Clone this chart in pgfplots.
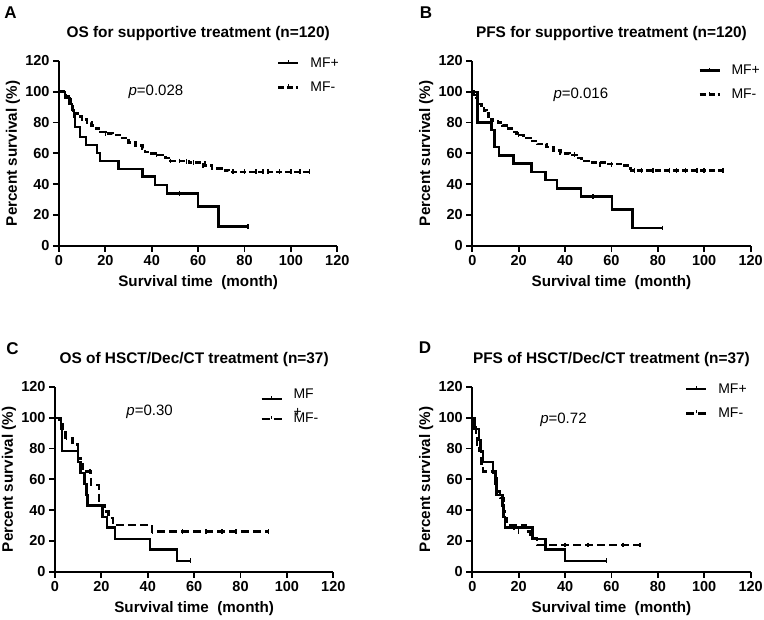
\documentclass[border=0pt]{standalone}
\usepackage{fontspec}
\setmainfont{Liberation Sans}
\usepackage{pgfplots}
\pgfplotsset{compat=1.18}
\pgfplotsset{
  km/.style={
    width=278.3pt, height=184.7pt, scale only axis,
    xmin=0, xmax=120, ymin=0, ymax=120, enlargelimits=false, clip=false,
    xtick={0,20,...,120}, ytick={0,20,...,120},
    axis lines*=left, axis line style={line width=2.1pt},
    tick style={line width=1.8pt, black}, tick align=outside, major tick length=6pt,
    /pgf/number format/assume math mode=true,
    tick label style={font=\fontsize{14.5}{16}\selectfont\bfseries},
    xlabel={Survival time\ \ (month)}, ylabel={Percent survival (\%)},
    xlabel style={at={(0.5,0)}, anchor=center, yshift=-37pt, font=\fontsize{15.2}{18}\selectfont\bfseries},
    ylabel style={at={(0,0.5)}, anchor=center, yshift=46pt, font=\fontsize{15.2}{18}\selectfont\bfseries},
    title style={at={(0.5,1)}, anchor=center, yshift=21pt, font=\fontsize{15.4}{18}\selectfont\bfseries},
    legend style={draw=none, fill=none, font=\fontsize{14}{16}\selectfont, anchor=north west,
      inner sep=0pt, row sep=9pt},
    legend cell align=left,
    legend image code/.code={\path[draw=none,fill=none] (0pt,0pt) -- (30pt,0pt); \draw[#1] (0pt,0pt) -- (20pt,0pt); \draw[line width=1.6pt,solid] (10pt,0pt) -- (10pt,3pt);},
  },
  pos/.style={line width=2.4pt, black, const plot},
  neg/.style={line width=2.6pt, black, const plot, dash pattern=on 6pt off 3pt},
  negC/.style={line width=2.4pt, black, const plot, dash pattern=on 8pt off 4pt},
  cens/.style={only marks, mark=|, mark size=2.4pt, mark options={line width=1.6pt, solid}, black, forget plot},
}
\begin{document}
\begin{tikzpicture}
\useasboundingbox (0pt,0pt) rectangle (764pt,-620pt);
\node[font=\fontsize{17}{20}\selectfont\bfseries] at (10.5pt,-12.5pt) {A};
\node[font=\fontsize{17}{20}\selectfont\bfseries] at (426pt,-12.5pt) {B};
\node[font=\fontsize{17}{20}\selectfont\bfseries] at (12.5pt,-349pt) {C};
\node[font=\fontsize{17}{20}\selectfont\bfseries] at (425pt,-348pt) {D};

% ---------------- A
\begin{axis}[km, at={(59pt,-245.7pt)}, anchor=south west,
  title={OS for supportive treatment (n=120)},
  legend style={at={(0.783,1.03)}}]
\addplot[pos] coordinates {(0,100)(2.5,96)(4.5,92)(5.5,88)(6.5,84)(7,77)(9.1,70.5)(11.7,65.3)(16.3,60.2)(17.7,55)(25.6,50)(36,45)(41.4,39.5)(46.5,34)(60,25.5)(68.7,12.5)(81.6,12.5)};
\addlegendentry{MF+}
\addplot[neg] coordinates {(0,100)(2,99)(3,97)(4,95)(5,92)(6,88)(7,86)(8,84)(10,82)(12,80)(14,78)(16,76)(18,74)(20,73)(23,72)(26,70)(30,67)(33,65)(36,63)(37,61)(40,60)(43,59)(46,57)(48,55)(52,55)(56,54)(60,54)(63,52)(66,50)(70,49)(73,48)(108,48)};
\addlegendentry{MF-}
\addplot[cens] coordinates {(52,34)(81.6,12.5)};
\addplot[cens] coordinates {(3,97)(20,73)(42,59)(48,55)(52,55)(55,54.5)(58,54)(62,52)(75,48)(80,48)(85,48)(88,48)(90,48)(95,48)(100,48)(104,48)(108,48)};
\node[anchor=west, font=\fontsize{15}{18}\selectfont] at (axis cs:28.5,100) {\textit{p}=0.028};
\end{axis}

% ---------------- B
\begin{axis}[km, at={(472.3pt,-245.7pt)}, anchor=south west,
  title={PFS for supportive treatment (n=120)},
  legend style={at={(0.811,0.99)}}]
\addplot[pos] coordinates {(0,100)(2.2,80)(8.2,75)(9.6,64)(11.5,58.5)(17.7,53.3)(25.6,47.8)(31.6,42.5)(36.4,37.2)(46.8,31.9)(60.3,23.5)(69,11.5)(82,11.5)};
\addlegendentry{MF+}
\addplot[neg] coordinates {(0,100)(0.5,98)(1,96)(2,94)(3,92)(4,90)(5,88)(6,86)(7,84)(8,82)(9,81)(11,80)(13,78)(15,76)(17,74)(19,72)(22,70)(25,68)(28,66)(32,64)(35,62)(38,60)(42,59)(45,57)(47,55)(50,54)(58,53)(64,52)(67,50)(68.5,49)(108,49)};
\addlegendentry{MF-}
\addplot[cens] coordinates {(52,31.9)(82,11.5)};
\addplot[cens] coordinates {(2,94)(20,72)(44,59)(55,53)(60,53)(70,49)(73,49)(78,49)(85,49)(88,49)(92,49)(97,49)(100,49)(108,49)};
\node[anchor=west, font=\fontsize{15}{18}\selectfont] at (axis cs:33.5,98) {\textit{p}=0.016};
\end{axis}

% ---------------- C
\begin{axis}[km, at={(55pt,-571.7pt)}, anchor=south west,
  title={OS of HSCT/Dec/CT treatment (n=37)},
  legend style={at={(0.737,1.0)}, row sep=1pt}]
\addplot[pos] coordinates {(0,100)(2.5,92.9)(3,78.6)(10,71.4)(11,64.3)(12.7,57.1)(13.5,50)(14,42.9)(20.5,35.7)(22.5,28.6)(25.9,21.4)(41,14.3)(52.7,7.1)(58.5,7.1)};
\addlegendentry{\rlap{\raisebox{-10pt}{+}}\raisebox{8pt}{MF}}
\addplot[negC] coordinates {(0,100)(2,95.7)(3.5,91.3)(4.5,87)(7.5,82.6)(10,73.9)(11,69.6)(12,65.2)(15.5,56.5)(19,43.5)(21.5,39.1)(23,34.8)(25,30.4)(41.7,26.1)(92,26.1)};
\addlegendentry{MF-}
\addplot[cens] coordinates {(58.5,7.1)};
\addplot[cens] coordinates {(5,87)(15,65.2)(42,26.1)(55,26.1)(65,26.1)(72,26.1)(78,26.1)(92,26.1)};
\node[anchor=west, font=\fontsize{15}{18}\selectfont] at (axis cs:29.3,103.8) {\textit{p}=0.30};
\end{axis}

% ---------------- D
\begin{axis}[km, at={(472.3pt,-571.7pt)}, anchor=south west,
  title={PFS of HSCT/Dec/CT treatment (n=37)},
  legend style={at={(0.764,1.03)}}]
\addplot[pos] coordinates {(0,100)(1,92.9)(3,85.7)(3.5,78.6)(4.5,71.4)(8.9,64.3)(10,57.1)(10.5,50)(13,42.9)(13.5,35.7)(14.1,28.6)(26,21.4)(31.6,14.3)(40,7.1)(57.9,7.1)};
\addlegendentry{MF+}
\addplot[negC] coordinates {(0,100)(0.5,95.7)(1.5,87)(2,82.6)(3,78.3)(4,69.6)(4.5,65.2)(10,60.9)(10.5,52.2)(12,47.8)(13.5,39.1)(14,34.8)(15,30.4)(23,26.1)(25,21.7)(28,17.4)(72.3,17.4)};
\addlegendentry{MF-}
\addplot[cens] coordinates {(18,28.6)(57.9,7.1)};
\addplot[cens] coordinates {(20,26.1)(40,17.4)(50,17.4)(65,17.4)(72.3,17.4)};
\node[anchor=west, font=\fontsize{15}{18}\selectfont] at (axis cs:27.8,98.4) {\textit{p}=0.72};
\end{axis}
\end{tikzpicture}
\end{document}
